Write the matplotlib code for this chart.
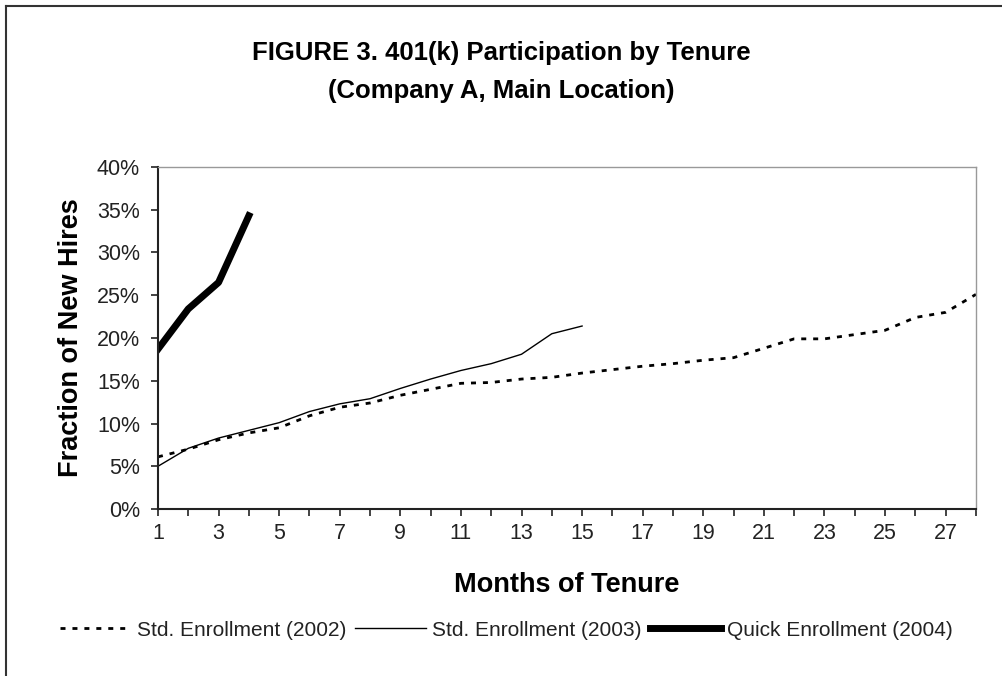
import numpy as np
import matplotlib
matplotlib.use('Agg')
import matplotlib.pyplot as plt
from matplotlib.lines import Line2D
from matplotlib.ticker import FuncFormatter

plt.rcParams['font.family'] = ['Liberation Sans', 'DejaVu Sans']

# data (fraction of new hires, %)
months_2002 = list(range(1, 29))
std_2002 = [6.1, 7.0, 8.1, 8.9, 9.5, 10.9, 11.9, 12.4, 13.3, 14.0,
            14.7, 14.8, 15.2, 15.4, 15.9, 16.3, 16.7, 17.0, 17.4, 17.7,
            18.8, 19.9, 19.9, 20.4, 20.9, 22.4, 23.0, 25.1]
months_2003 = list(range(1, 16))
std_2003 = [5.0, 7.1, 8.3, 9.2, 10.1, 11.4, 12.3, 12.9, 14.1, 15.2,
            16.2, 17.0, 18.1, 20.5, 21.4]
months_2004 = [1, 2, 3, 4]
quick_2004 = [18.7, 23.4, 26.5, 34.3]

labels = ['Std. Enrollment (2002)', 'Std. Enrollment (2003)',
          'Quick Enrollment (2004)']

fig = plt.figure(figsize=(10.03, 6.76), dpi=100)
ax = fig.add_axes([0.1575, 0.247, 0.8155, 0.506])

l1, = ax.plot(months_2002, np.array(std_2002) / 100, color='black', lw=2.0,
              linestyle=(0, (1.8, 2.5)), solid_capstyle='butt')
l2, = ax.plot(months_2003, np.array(std_2003) / 100, color='black', lw=1.0)
l3, = ax.plot(months_2004, np.array(quick_2004) / 100, color='black', lw=5.0)

ax.set_xlim(1, 28)
ax.set_ylim(0, 0.40)
ax.set_xticks(range(1, 29))
ax.set_xticklabels([str(m) if m % 2 == 1 else '' for m in range(1, 29)])
ax.set_yticks(np.arange(0, 0.401, 0.05))
ax.yaxis.set_major_formatter(FuncFormatter(lambda v, p: '%d%%' % round(v * 100)))
ax.tick_params(axis='both', direction='out', length=5, width=1.2,
               labelsize=15.5, labelcolor='#222222', color='#222222')
ax.tick_params(axis='x', pad=5)
ax.tick_params(axis='y', pad=8)

for side in ['left', 'bottom']:
    ax.spines[side].set_linewidth(1.5)
    ax.spines[side].set_color('#222222')
for side in ['top', 'right']:
    ax.spines[side].set_linewidth(1.0)
    ax.spines[side].set_color('#999999')

ax.set_xlabel('Months of Tenure', fontsize=19.5, fontweight='bold', labelpad=20)
ax.set_ylabel('Fraction of New Hires', fontsize=19.5, fontweight='bold',
              labelpad=9)

fig.text(0.5, 0.921, 'FIGURE 3. 401(k) Participation by Tenure',
         ha='center', va='center', fontsize=18.5, fontweight='bold')
fig.text(0.5, 0.866, '(Company A, Main Location)',
         ha='center', va='center', fontsize=18.5, fontweight='bold')

fig.legend([l1, l2, l3], labels, loc='center', bbox_to_anchor=(0.505, 0.068),
           ncol=3, frameon=False, fontsize=15, handlelength=3.4,
           handletextpad=0.3, columnspacing=0.4, labelcolor='#222222')

# outer frame of the figure (cropped at right and bottom)
fig.add_artist(Line2D([6 / 1003, 1.0], [1 - 6 / 676, 1 - 6 / 676],
                      color='#333333', lw=1.5))
fig.add_artist(Line2D([6 / 1003, 6 / 1003], [0.0, 1 - 6 / 676],
                      color='#333333', lw=1.5))

fig.savefig('out.png', dpi=100)
